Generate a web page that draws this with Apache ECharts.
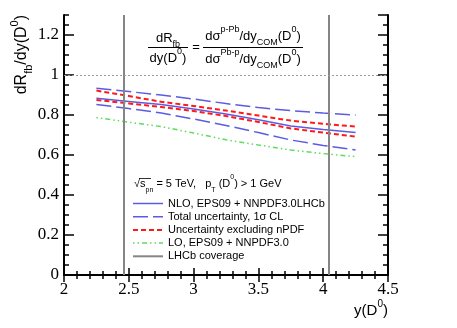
<!DOCTYPE html>
<html>
<head>
<meta charset="utf-8">
<script src="https://cdn.jsdelivr.net/npm/echarts@6/dist/echarts.min.js"></script>
<style>
  html, body { margin: 0; padding: 0; background: #fff; }
  #chart-container { width: 457px; height: 328px; }
</style>
</head>
<body>
<div id="chart-container"></div>
<script>
// D0 rapidity points and ratios
const rapidity = [2.25, 2.5, 2.75, 3.0, 3.25, 3.5, 3.75, 4.0, 4.25];
const nloCentral = [0.884, 0.868, 0.852, 0.83, 0.805, 0.776, 0.745, 0.727, 0.712];
const totalUpper = [0.934, 0.917, 0.9, 0.88, 0.857, 0.837, 0.822, 0.81, 0.8];
const totalLower = [0.853, 0.832, 0.81, 0.78, 0.748, 0.712, 0.675, 0.648, 0.625];
const noNpdfUpper = [0.922, 0.895, 0.866, 0.845, 0.822, 0.797, 0.772, 0.756, 0.742];
const noNpdfLower = [0.875, 0.858, 0.84, 0.82, 0.795, 0.765, 0.733, 0.712, 0.692];
const loCentral = [0.787, 0.764, 0.742, 0.71, 0.676, 0.65, 0.625, 0.607, 0.592];
const lhcbCoverage = [2.465, 4.035];
const referenceLevel = 1;

const legendNames = [
  "NLO, EPS09 + NNPDF3.0LHCb",
  "Total uncertainty, 1\u03c3 CL",
  "Uncertainty excluding nPDF",
  "LO, EPS09 + NNPDF3.0",
  "LHCb coverage",
];

const BLUE = "#5b5be3";
const RED = "#ff1a1a";
const GREEN = "#5fdc5f";
const GRAY = "#858585";
const SANS = "Liberation Sans, Arial, sans-serif";
const SERIF = "Liberation Serif, Times New Roman, serif";

const DASH_LONG = [15, 5];
const DASH_SHORT = [5, 3];
const DASH_DOT = [1.5, 3, 1.5, 3, 5, 3];

const pts = (arr) => rapidity.map((x, i) => [x, arr[i]]);

const dom = document.getElementById("chart-container");
const myChart = echarts.init(dom, null, { renderer: "canvas" });

const frame = { show: true, lineStyle: { color: "#000", width: 2 } };
const tickStyle = { color: "#000", width: 1.5 };

function xAx(position, showLabel) {
  return {
    type: "value",
    position: position,
    min: 2,
    max: 4.5,
    interval: 0.5,
    axisLine: frame,
    axisTick: { show: true, inside: true, length: 7, lineStyle: tickStyle },
    minorTick: { show: true, splitNumber: 5, length: 4, lineStyle: tickStyle },
    splitLine: { show: false },
    axisLabel: {
      show: showLabel,
      fontFamily: SERIF,
      fontSize: 17,
      color: "#000",
      margin: 6,
    },
  };
}

function yAx(position, interval, len, showLine, showLabel) {
  return {
    type: "value",
    position: position,
    min: 0,
    max: 1.3,
    interval: interval,
    axisLine: showLine ? frame : { show: false },
    axisTick: { show: true, inside: true, length: len, lineStyle: tickStyle },
    splitLine: { show: false },
    axisLabel: {
      show: showLabel,
      showMaxLabel: false,
      fontFamily: SERIF,
      fontSize: 17,
      color: "#000",
      margin: 5,
    },
  };
}

function band(name, arr, color, width, type) {
  return {
    name: name,
    type: "line",
    data: pts(arr),
    symbol: "none",
    showSymbol: false,
    lineStyle: { color: color, width: width, type: type },
    itemStyle: { color: color },
    z: 3,
  };
}

const rich = (size) => ({
  m: { fontSize: size, fontFamily: SANS, color: "#000", lineHeight: size + 9 },
  sp: { fontSize: Math.round(size * 0.68), fontFamily: SANS, color: "#000", verticalAlign: "top", lineHeight: Math.round(size * 0.68) },
  sb: { fontSize: Math.round(size * 0.68), fontFamily: SANS, color: "#000", verticalAlign: "bottom", lineHeight: Math.round(size * 0.68) },
});

function label(text, x, y, size, align, rotation) {
  return {
    type: "text",
    x: x,
    y: y,
    rotation: rotation || 0,
    style: {
      text: text,
      align: align,
      verticalAlign: "middle",
      fontFamily: SANS,
      fontSize: size,
      fill: "#000",
      rich: rich(size),
    },
    z: 10,
  };
}

function rule(x1, x2, y) {
  return {
    type: "line",
    shape: { x1: x1, y1: y, x2: x2, y2: y },
    style: { stroke: "#000", lineWidth: 1 },
    z: 10,
  };
}

const legendStyles = [
  { color: BLUE, width: 1.5, type: "solid" },
  { color: BLUE, width: 1.5, type: DASH_LONG },
  { color: RED, width: 2, type: DASH_SHORT },
  { color: GREEN, width: 1.5, type: DASH_DOT },
  { color: GRAY, width: 2, type: "solid" },
];

const option = {
  animation: false,
  backgroundColor: "#fff",
  grid: { left: 64, right: 69, top: 15, bottom: 53, outerBoundsMode: "none" },
  xAxis: [xAx("bottom", true), xAx("top", false)],
  yAxis: [
    yAx("left", 0.2, 10, true, true),
    yAx("left", 0.05, 5, false, false),
    yAx("right", 0.2, 10, true, false),
    yAx("right", 0.05, 5, false, false),
  ],
  legend: {
    orient: "vertical",
    left: 127,
    top: 192,
    itemWidth: 30,
    itemHeight: 13,
    itemGap: 0.2,
    selectedMode: false,
    itemStyle: { opacity: 0 },
    data: legendNames.map((n, i) => ({ name: n, lineStyle: legendStyles[i] })),
    textStyle: { fontFamily: SANS, fontSize: 11, color: "#000", lineHeight: 13 },
  },
  series: [
    {
      name: legendNames[4],
      type: "line",
      data: [],
      symbol: "none",
      lineStyle: { color: GRAY, width: 2 },
      itemStyle: { color: GRAY },
      markLine: {
        silent: true,
        symbol: "none",
        label: { show: false },
        lineStyle: { color: GRAY, width: 2, type: "solid" },
        data: lhcbCoverage.map((v) => ({ xAxis: v })),
      },
      z: 2,
    },
    {
      ...band(legendNames[0], nloCentral, BLUE, 1.5, "solid"),
      markLine: {
        silent: true,
        symbol: "none",
        label: { show: false },
        lineStyle: { color: "#9a9a9a", width: 1, type: [2, 2] },
        data: [{ yAxis: referenceLevel }],
      },
    },
    band(legendNames[1], totalUpper, BLUE, 1.5, DASH_LONG),
    band(legendNames[1], totalLower, BLUE, 1.5, DASH_LONG),
    band(legendNames[2], noNpdfUpper, RED, 2, DASH_SHORT),
    band(legendNames[2], noNpdfLower, RED, 2, DASH_SHORT),
    band(legendNames[3], loCentral, GREEN, 1.5, DASH_DOT),
  ],
  graphic: [
    label("{m|dR}{sb|fb}{m|/dy(D}{sp|0}{m|)}", 22, 15, 16, "right", Math.PI / 2),
    label("{m|y(D}{sp|0}{m|)}", 388, 311, 15, "right"),
    // ratio definition
    label("{m|dR}{sb|fb}", 168, 38, 13, "center"),
    rule(148, 188, 47.5),
    label("{m|dy(D}{sp|0}{m|)}", 168, 58, 13, "center"),
    label("{m|=}", 196, 47, 13, "center"),
    label("{m|d\u03c3}{sp|p-Pb}{m|/dy}{sb|COM}{m|(D}{sp|0}{m|)}", 253, 36, 13, "center"),
    rule(203, 303, 47.5),
    label("{m|d\u03c3}{sp|Pb-p}{m|/dy}{sb|COM}{m|(D}{sp|0}{m|)}", 253, 59, 13, "center"),
    // legend header
    label("{m|\u221as}{sb|pn}{m| = 5 TeV,   p}{sb|T}{m| (D}{sp|0}{m|) > 1 GeV}", 134, 184, 11, "left"),
    {
      type: "line",
      shape: { x1: 139, y1: 178.5, x2: 151, y2: 178.5 },
      style: { stroke: "#000", lineWidth: 0.8 },
      z: 10,
    },
  ],
};

if (option && typeof option === "object") {
  myChart.setOption(option);
}

window.addEventListener("resize", myChart.resize);
</script>
</body>
</html>
